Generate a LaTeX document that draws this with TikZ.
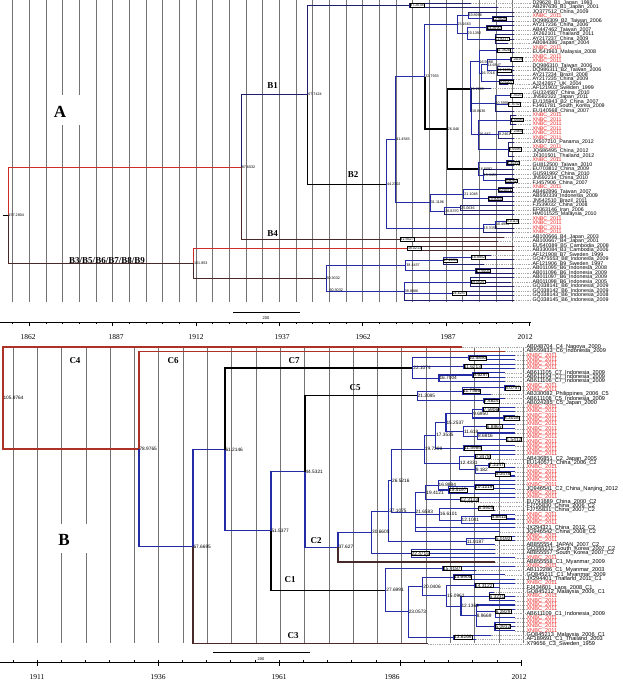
\documentclass[tikz,border=0pt]{standalone}
\usepackage{fontspec}
\setmainfont{Liberation Serif}
\newfontfamily\arial{Liberation Sans}
\usetikzlibrary{calc}
\definecolor{navy}{RGB}{30,30,110}
\definecolor{treeblue}{RGB}{36,44,165}
\definecolor{treered}{RGB}{205,45,40}
\definecolor{darkred}{RGB}{172,50,40}
\definecolor{treebrown}{RGB}{72,40,40}
\definecolor{leafred}{RGB}{235,35,35}
\definecolor{gridgray}{RGB}{115,115,115}
\tikzset{
  gridline/.style={draw=gridgray, line width=0.8pt},
  br/.style={line width=0.9pt},
  brB/.style={line width=1.1pt},
  thickbr/.style={line width=1.5pt},
  tipdash/.style={draw=gray!70, line width=0.35pt, dash pattern=on 1pt off 0.8pt},
  ageA/.style={anchor=west, inner sep=0.3pt, font=\arial\fontsize{3.7}{3.7}\selectfont},
  ageAbox/.style={ageA, draw, fill=white, line width=0.35pt},
  ageB/.style={anchor=west, inner sep=0.3pt, font=\arial\fontsize{4.8}{4.8}\selectfont},
  ageBbox/.style={ageB, draw, fill=white, line width=0.4pt},
  leafA/.style={anchor=west, inner sep=0.3pt, font=\arial\fontsize{5.3}{5.3}\selectfont},
  leafB/.style={anchor=west, inner sep=0.3pt, font=\arial\fontsize{5.6}{5.6}\selectfont},
  clade/.style={font=\bfseries\fontsize{9}{9}\selectfont, inner sep=0.5pt},
  panel/.style={font=\bfseries\fontsize{17}{17}\selectfont, inner sep=0pt},
  yearlab/.style={font=\fontsize{7.5}{7.5}\selectfont, inner sep=0pt},
  scalelab/.style={font=\arial\fontsize{4}{4}\selectfont, inner sep=0pt}
}
\begin{document}
\begin{tikzpicture}[x=1pt,y=-1pt]
\useasboundingbox (0,0) rectangle (623,682);

% time grid, panel A
\foreach \k in {0,...,30}
  \draw[gridline] ({12.7+16.667*\k},0) -- ({12.7+16.667*\k},302);
\fill[white] (50,95) rectangle (85,125);
% time grid, panel B
\foreach \k in {0,...,21}
  \draw[gridline] ({13+24.3*\k},348) -- ({13+24.3*\k},643);
\fill[white] (52,524) rectangle (93,553);

% axis between the panels
\draw[line width=0.6pt] (0,322) -- (531,322);
\foreach \k in {0,...,31}
  \draw[line width=0.5pt] ({12.7+16.667*\k},322) -- ++(0,2);
\foreach \k in {1,6,11,16,21,26,31}
  \draw[line width=0.6pt] ({12.7+16.667*\k},322) -- ++(0,4);
\foreach \x/\yr in {28/1862,116/1887,196/1912,282/1937,363/1962,448/1987,525/2012}
  \node[yearlab] (top\yr) at (\x,337) {\yr};
% axis under panel B
\draw[line width=0.6pt] (0,662) -- (522,662);
\foreach \k in {0,...,21}
  \draw[line width=0.5pt] ({12.8+24.2*\k},662) -- ++(0,-2);
\foreach \k in {1,6,11,16,21}
  \draw[line width=0.6pt] ({12.8+24.2*\k},662) -- ++(0,4);
\foreach \x/\yr in {37/1911,158/1936,279/1961,392/1986,519/2012}
  \node[yearlab] (bot\yr) at (\x,677) {\yr};

% scale bars
\coordinate (sA1) at (233,312);
\coordinate (sA2) at (300,312);
\draw[line width=0.5pt] (sA1) -- (sA2);
\node[scalelab] (sAl) at (266,318) {200};
\coordinate (sB1) at (213,652);
\coordinate (sB2) at (310,652);
\draw[line width=0.5pt] (sB1) -- (sB2);
\node[scalelab] (sBl) at (261,659) {200};

% ---------------- panel A ----------------
\coordinate (AR0) at (3,215.15);
\coordinate (AR) at (8,215.15);
\coordinate (A876) at (241.3,167);
\coordinate (A1018) at (193.6,263.3);
\coordinate (A677) at (307.8,94.7);
\coordinate (Aa1) at (409.8,5.25);
\coordinate (A442) at (386.5,184.1);
\coordinate (A415) at (395.8,139.65);
\coordinate (A328) at (424.8,76.6);
\coordinate (A232) at (457,24.4);
\coordinate (Ac1) at (468,15.4);
\coordinate (Ac1b) at (492.5,18.75);
\coordinate (Ac2) at (467.2,33.4);
\coordinate (Ac2a) at (486.8,27.75);
\coordinate (Ac2b) at (495,39);
\coordinate (A260) at (447.4,128.85);
\coordinate (Ae1) at (470.1,88.8);
\coordinate (Ae4) at (479,61.8);
\coordinate (Ae4a) at (496.6,50.25);
\coordinate (Ae4x) at (481,73.3);
\coordinate (Ae5) at (487,64.9);
\coordinate (Ae5a) at (510.5,59.25);
\coordinate (Ae5b) at (497.4,70.5);
\coordinate (Ae6) at (499,81.75);
\coordinate (Ae7) at (471.5,111.55);
\coordinate (Ae8) at (495.1,103.1);
\coordinate (Ae8a) at (510,95.25);
\coordinate (Ae8b) at (508.2,104.25);
\coordinate (Ae9) at (478.9,134.6);
\coordinate (Ae10) at (510.9,120);
\coordinate (Ae11) at (498.6,134.6);
\coordinate (Ae11a) at (510.3,131.25);
\coordinate (Ae12) at (508.9,149.25);
\coordinate (Ae2) at (478.3,168.9);
\coordinate (Ae2a) at (506.8,162.75);
\coordinate (Ae3) at (483.2,175.1);
\coordinate (Ae3a) at (505.1,180.75);
\coordinate (A311) at (430.4,202.7);
\coordinate (Aw1) at (463.9,194.25);
\coordinate (Aw1a) at (498,189.75);
\coordinate (Aw1b) at (488,198.75);
\coordinate (Aw2) at (444.8,211.1);
\coordinate (Aw3) at (460.7,207.75);
\coordinate (Av1) at (483.3,228.55);
\coordinate (Av2) at (495.5,224.6);
\coordinate (Av3) at (506.4,221.25);
\coordinate (Au1) at (400,239.25);
\coordinate (At1) at (407.3,248.25);
\coordinate (Aq1) at (326,278.35);
\coordinate (Aq2) at (405.9,265.7);
\coordinate (Ar1) at (443.3,260.6);
\coordinate (Ar1a) at (471.4,257.25);
\coordinate (Ar2) at (475.8,270.75);
\coordinate (Aq3) at (404.4,291);
\coordinate (As1) at (470.7,282);
\coordinate (As2) at (452.2,293.25);

\draw[br] (AR0) -- (AR);
\draw[br,treered] (AR) |- (A876);
\draw[br,treebrown] (AR) |- (A1018);
\draw[br,navy] (A876) |- (A677);
\draw[br,treebrown] (A876) |- (Au1);
\draw[br,treered] (A1018) |- (At1);
\draw[br,treebrown] (A1018) |- (Aq1);
\draw[br,navy] (A677) |- (Aa1);
\draw[br,black] (A677) |- (A442);
\draw[thickbr] (A328) |- (A260);
\draw[thickbr] (A260) |- (Ae1);
\draw[thickbr] (A260) |- (Ae2);
\foreach \pa/\ch in {A442/A415, A442/Av1, A415/A328, A415/A311, A328/A232,
    A232/Ac1, A232/Ac2, Ac1/Ac1b, Ac2/Ac2a, Ac2/Ac2b, Ae1/Ae4, Ae1/Ae7,
    Ae4/Ae4a, Ae4/Ae4x, Ae4x/Ae5, Ae4x/Ae6, Ae5/Ae5a, Ae5/Ae5b, Ae7/Ae8,
    Ae7/Ae9, Ae8/Ae8a, Ae8/Ae8b, Ae9/Ae10, Ae9/Ae11, Ae9/Ae12, Ae11/Ae11a,
    Ae2/Ae2a, Ae2/Ae3, Ae3/Ae3a, A311/Aw1, A311/Aw2, Aw1/Aw1a, Aw1/Aw1b,
    Aw2/Aw3, Av1/Av2, Av2/Av3, Aq1/Aq2, Aq1/Aq3, Aq2/Ar1, Aq2/Ar2,
    Ar1/Ar1a, Aq3/As1, Aq3/As2}
  \draw[br,treeblue] (\pa) |- (\ch);

% leaves of panel A
\foreach \i/\pa/\ec/\tc/\yr/\lab in {
  1/Aa1/navy/black/1993/D29628\_B1\_Japan\_1993,
  2/Aa1/navy/black/2001/AB297636\_B1\_Japan\_2001,
  3/Ac1/navy/black/2009/JQ377512\_China\_2009,
  4/Ac1b/navy/leafred/2011/XNBC\_2011,
  5/Ac1b/navy/black/2006/DQ986309\_B2\_Taiwan\_2006,
  6/Ac2a/navy/black/2006/AY217236\_China\_2006,
  7/Ac2a/navy/black/2007/AB447462\_Taiwan\_2007,
  8/Ac2b/navy/black/2011/JX262101\_Thailand\_2011,
  9/Ac2b/navy/black/2009/AY217237\_China\_2009,
  10/Ac2b/navy/black/2004/AB084386\_Japan\_2004,
  11/Ae4a/navy/leafred/2011/XNBC\_2011,
  12/Ae4a/navy/black/2008/EU541963\_Malaysia\_2008,
  13/Ae5a/navy/leafred/2011/XNBC\_2011,
  14/Ae5a/navy/leafred/2011/XNBC\_2011,
  15/Ae5b/navy/black/2006/DQ986310\_Taiwan\_2006,
  16/Ae5b/navy/black/2006/DQ986311\_B2\_Taiwan\_2006,
  17/Ae5b/navy/black/2008/AY217234\_Brazil\_2008,
  18/Ae6/navy/black/2009/AY217235\_China\_2009,
  19/Ae6/navy/black/2004/AJ242657\_UK\_2004,
  20/Ae7/navy/black/1999/AF121903\_Sweden\_1999,
  21/Ae8a/navy/black/2010/GU324587\_China\_2010,
  22/Ae8a/navy/black/2011/JN582322\_Japan\_2011,
  23/Ae8b/navy/black/2007/EU135943\_B2\_China\_2007,
  24/Ae8b/navy/black/2009/FJ461781\_South\_Korea\_2009,
  25/Ae8/navy/black/2007/EU140568\_China\_2007,
  26/Ae10/navy/leafred/2011/XNBC\_2011,
  27/Ae10/navy/leafred/2011/XNBC\_2011,
  28/Ae10/navy/leafred/2011/XNBC\_2011,
  29/Ae11a/navy/leafred/2011/XNBC\_2011,
  30/Ae11a/navy/leafred/2011/XNBC\_2011,
  31/Ae11/navy/leafred/2011/XNBC\_2011,
  32/Ae12/navy/black/2012/JX507210\_Panama\_2012,
  33/Ae12/navy/leafred/2011/XNBC\_2011,
  34/Ae12/navy/black/2012/JQ686495\_China\_2012,
  35/Ae12/navy/black/2012/JX301501\_Thailand\_2012,
  36/Ae2a/navy/leafred/2011/XNBC\_2011,
  37/Ae2a/navy/black/2010/GU812500\_Taiwan\_2010,
  38/Ae3/navy/black/2009/EU703812\_China\_2009,
  39/Ae3/navy/black/2010/GU591992\_China\_2010,
  40/Ae3a/navy/black/2010/JN592214\_China\_2010,
  41/Ae3a/navy/black/2007/FJ457906\_China\_2007,
  42/Aw1a/navy/leafred/2011/XNBC\_2011,
  43/Aw1a/navy/black/2007/AB462896\_Taiwan\_2007,
  44/Aw1b/navy/black/2009/AB550339\_Indonesia\_2009,
  45/Aw1b/navy/black/2011/JN542510\_Brazil\_2011,
  46/Aw3/navy/black/2008/FJ539032\_China\_2008,
  47/Aw3/navy/black/2006/EF063146\_Iran\_2006,
  48/Aw2/navy/black/2010/HM011525\_Malaysia\_2010,
  49/Av3/navy/leafred/2011/XNBC\_2011,
  50/Av3/navy/leafred/2011/XNBC\_2011,
  51/Av2/navy/leafred/2011/XNBC\_2011,
  52/Av1/navy/leafred/2011/XNBC\_2011,
  53/Au1/treebrown/black/2003/AB100666\_B4\_Japan\_2003,
  54/Au1/treebrown/black/2001/AB100667\_B4\_Japan\_2001,
  55/At1/treebrown/black/2008/EU540389\_B5\_Cambodia\_2008,
  56/At1/treebrown/black/2006/AB330084\_B3\_Cambodia\_2006,
  57/Ar1a/navy/black/1999/AF121908\_B7\_Sweden\_1999,
  58/Ar1a/navy/black/2009/GQ475553\_B8\_Indonesia\_2009,
  59/Ar1/navy/black/1997/AF121906\_B9\_Sweden\_1997,
  60/Ar2/navy/black/2008/AB011095\_B6\_Indonesia\_2008,
  61/Ar2/navy/black/2009/AB011096\_B6\_Indonesia\_2009,
  62/As1/navy/black/2009/AB011097\_B6\_Indonesia\_2009,
  63/As1/navy/black/2005/AB011098\_B6\_Indonesia\_2005,
  64/As1/navy/black/2009/GQ338141\_B6\_Indonesia\_2009,
  65/As2/navy/black/2009/GQ338142\_B6\_Indonesia\_2009,
  66/As2/navy/black/2008/GQ338143\_B6\_Indonesia\_2008,
  67/Aq3/navy/black/2009/GQ338145\_B6\_Indonesia\_2009}{
  \pgfmathsetmacro\ly{3+4.5*(\i-1)}
  \pgfmathsetmacro\lx{min(534.6-3.348*(2012-\yr),514)}
  \node[leafA,text=\tc] (la\i) at (532,\ly) {\lab};
  \draw[br,\ec] let \p1=(\pa) in (\pa) |- ({max(scalar(\x1)+5,\lx)},\ly) coordinate (ta\i);
  \draw[tipdash] (ta\i) -- (la\i.west);
}

% node ages, panel A
\foreach \nm/\txt in {AR/157.2804, A876/87.6032, A1018/101.853, A677/67.7424,
    A442/44.2302, A415/41.4583, A328/32.7933, A232/23.1663, Ac1/19.8996,
    Ac2/20.1392, A260/26.046, Ae1/19.2689, Ae4/16.5988, Ae4x/16.7016,
    Ae5/14.6847, Ae7/18.8436, Ae8/10.5991, Ae9/16.647, Ae11/9.2461,
    Ae2/16.8092, Ae3/15.3451, A311/31.1196, Aw1/21.1048, Aw2/26.8370,
    Aw3/25.0636, Av1/15.3153, Av2/10.4956, Aq1/60.3032, Aq2/38.4437,
    Aq3/38.8886}
  \node[ageA] (\nm-l) at (\nm) {\txt};
\foreach \nm/\txt in {Aa1/37.2638, Ac1b/12.5626, Ac2a/14.2690, Ac2b/11.8217,
    Ae4a/11.3626, Ae5a/7.2019, Ae5b/11.1135, Ae6/10.6207, Ae8a/7.3525,
    Ae8b/7.8742, Ae10/7.0695, Ae11a/7.2464, Ae12/7.6695, Ae2a/8.3039,
    Ae3a/8.8052, Aw1a/10.9371, Aw1b/13.9060, Av3/9.0113, Au1/41.5627,
    At1/38.0213, Ar1/27.2659, Ar1a/18.8852, Ar2/17.5605, As1/19.0825,
    As2/24.6257}
  \node[ageAbox] (\nm-l) at (\nm) {\txt};
\node[ageA] (Aq1-m) at (329,290) {60.3032};

% clade names, panel A
\node[panel] (pA) at (60,112) {A};
\node[clade] (cB1) at (272.5,86) {B1};
\node[clade] (cB2) at (353,175) {B2};
\node[clade] (cB4) at (272.5,234) {B4};
\node[clade] (cB3) at (107,261) {B3/B5/B6/B7/B8/B9};

% ---------------- panel B ----------------
\coordinate (BR) at (3,398);
\coordinate (B790) at (139,449);
\coordinate (B677) at (193,546.7);
\coordinate (B612) at (225,449.65);
\coordinate (B515) at (271,530.8);
\coordinate (B445) at (305,471.5);
\coordinate (B376) at (338,547.15);
\coordinate (Bc7) at (412.9,367.95);
\coordinate (Bc7a) at (468.5,357.75);
\coordinate (Bc7b) at (463.5,366.35);
\coordinate (Bc7c) at (439,378.2);
\coordinate (Bc7d) at (473,374.95);
\coordinate (Bc5) at (417.2,395.9);
\coordinate (Bc5a) at (462.8,391.1);
\coordinate (Bc5b) at (483.6,400.75);
\coordinate (Bc5c) at (504.8,387.85);
\coordinate (Bm1) at (371.6,532.3);
\coordinate (Bm2) at (388.8,511.15);
\coordinate (Bm3) at (411.1,553.4);
\coordinate (Bm4) at (391.6,480.7);
\coordinate (Bn1) at (424.4,449.2);
\coordinate (Bn2) at (415.1,512.15);
\coordinate (Bn3) at (435.8,435.3);
\coordinate (Bn4) at (459.6,463.1);
\coordinate (Bn5) at (446,422.5);
\coordinate (Bn10) at (472.8,413.65);
\coordinate (Bb1) at (483,409.35);
\coordinate (Bb2) at (503.7,417.95);
\coordinate (Bn11) at (463.5,431.4);
\coordinate (Bb3) at (486.4,426.55);
\coordinate (Bn12) at (477.7,436.2);
\coordinate (Bb5) at (506.2,439.45);
\coordinate (Bb6) at (463.6,448.05);
\coordinate (Bb7) at (474.5,456.65);
\coordinate (Bn13) at (475.3,469.55);
\coordinate (Bb8) at (488.8,465.25);
\coordinate (Bb9) at (495.2,473.85);
\coordinate (Bn14) at (425.9,492.4);
\coordinate (Bn16) at (438.1,485.1);
\coordinate (Bn17) at (448.7,489.98);
\coordinate (Bb12) at (474.7,486.75);
\coordinate (Bb11) at (460.2,499.65);
\coordinate (Bn15) at (439.4,514.2);
\coordinate (Bb14) at (478.1,508.25);
\coordinate (Bn18) at (461.2,520.1);
\coordinate (Bb15) at (491.2,516.85);
\coordinate (Bn20) at (466.4,541.6);
\coordinate (Bb17) at (495.4,538.35);
\coordinate (Bk0) at (385.9,590.2);
\coordinate (Bk1) at (442.8,568.45);
\coordinate (Bk2) at (408.3,611.9);
\coordinate (Bk3) at (422.9,586.5);
\coordinate (Bk4) at (453.8,637.25);
\coordinate (Bk5) at (453.5,577.05);
\coordinate (Bk6) at (446.7,595.9);
\coordinate (Bk7) at (474.6,585.65);
\coordinate (Bk8) at (461,606.1);
\coordinate (Bk9) at (489.1,596.4);
\coordinate (Bk10) at (476.3,615.75);
\coordinate (Bk11) at (495.3,611.6);
\coordinate (Bk12) at (495,626.5);

\draw[brB,darkred] (BR) |- (B790);
\draw[brB,treeblue] (B790) |- (B677);
\draw[brB,treeblue] (B677) |- (B612);
\draw[brB,black] (B612) |- (Bc7);
\draw[brB,treeblue] (B612) |- (B515);
\draw[brB,treeblue] (B515) |- (B445);
\draw[brB,black] (B515) |- (Bk0);
\draw[brB,black] (B445) |- (Bc5);
\draw[brB,treeblue] (B445) |- (B376);
\draw[brB,treeblue] (B376) |- (Bm1);
\foreach \pa/\ch in {Bc7/Bc7a, Bc7/Bc7b, Bc7/Bc7c, Bc7c/Bc7d, Bc5/Bc5a,
    Bc5/Bc5b, Bc5a/Bc5c, Bm1/Bm2, Bm1/Bm3, Bm2/Bm4, Bm2/Bn20, Bm4/Bn1,
    Bm4/Bn2, Bn1/Bn3, Bn1/Bn4, Bn3/Bn5, Bn3/Bb6, Bn5/Bn10, Bn5/Bn11,
    Bn10/Bb1, Bn10/Bb2, Bn11/Bb3, Bn11/Bn12, Bn12/Bb5, Bn4/Bb7, Bn4/Bn13,
    Bn13/Bb8, Bn13/Bb9, Bn2/Bn14, Bn2/Bn15, Bn14/Bn16, Bn14/Bb11,
    Bn16/Bn17, Bn17/Bb12, Bn15/Bb14, Bn15/Bn18, Bn18/Bb15, Bn20/Bb17,
    Bk0/Bk1, Bk0/Bk2, Bk2/Bk3, Bk2/Bk4, Bk3/Bk5, Bk3/Bk6, Bk6/Bk7,
    Bk6/Bk8, Bk8/Bk9, Bk8/Bk10, Bk10/Bk11, Bk10/Bk12}
  \draw[brB,treeblue] (\pa) |- (\ch);

% leaves of panel B
\foreach \i/\pa/\ec/\tc/\yr/\lab in {
  1/BR/darkred/black/2000/AB048704\_C4\_Nagoya\_2000,
  2/B790/darkred/black/2009/AB559833\_C6\_Indonesia\_2009,
  3/Bc7a/treeblue/leafred/2011/XNBC\_2011,
  4/Bc7a/treeblue/leafred/2011/XNBC\_2011,
  5/Bc7b/treeblue/leafred/2011/XNBC\_2011,
  6/Bc7b/treeblue/leafred/2011/XNBC\_2011,
  7/Bc7d/treeblue/black/2009/AB611105\_C7\_Indonesia\_2009,
  8/Bc7d/treeblue/black/2009/AB611104\_C7\_Indonesia\_2009,
  9/Bc7c/treeblue/black/2009/AB611106\_C7\_Indonesia\_2009,
  10/Bc5c/treeblue/leafred/2011/XNBC\_2011,
  11/Bc5c/treeblue/leafred/2011/XNBC\_2011,
  12/Bc5a/treeblue/black/2006/AB330082\_Philippines\_2006\_C5,
  13/Bc5b/treeblue/black/2009/AB611108\_C5\_Indonesia\_2009,
  14/Bc5b/treeblue/black/2000/AB024285\_C5\_Japan\_2000,
  15/Bb1/treeblue/leafred/2011/XNBC\_2011,
  16/Bb1/treeblue/leafred/2011/XNBC\_2011,
  17/Bb2/treeblue/leafred/2011/XNBC\_2011,
  18/Bb2/treeblue/leafred/2011/XNBC\_2011,
  19/Bb3/treeblue/leafred/2011/XNBC\_2011,
  20/Bb3/treeblue/leafred/2011/XNBC\_2011,
  21/Bn12/treeblue/leafred/2011/XNBC\_2011,
  22/Bb5/treeblue/leafred/2011/XNBC\_2011,
  23/Bb5/treeblue/leafred/2011/XNBC\_2011,
  24/Bb6/treeblue/leafred/2011/XNBC\_2011,
  25/Bb6/treeblue/leafred/2011/XNBC\_2011,
  26/Bb7/treeblue/leafred/2011/XNBC\_2011,
  27/Bb7/treeblue/black/2005/AB436851\_C2\_Japan\_2005,
  28/Bb8/treeblue/black/2006/EU140571\_China\_2006\_C2,
  29/Bb8/treeblue/leafred/2011/XNBC\_2011,
  30/Bb9/treeblue/leafred/2011/XNBC\_2011,
  31/Bb9/treeblue/leafred/2011/XNBC\_2011,
  32/Bn16/treeblue/leafred/2011/XNBC\_2011,
  33/Bb12/treeblue/leafred/2011/XNBC\_2011,
  34/Bb12/treeblue/black/2012/JQ946541\_C2\_China\_Nanjing\_2012,
  35/Bn17/treeblue/leafred/2011/XNBC\_2011,
  36/Bb11/treeblue/leafred/2011/XNBC\_2011,
  37/Bb11/treeblue/black/2000/EU791689\_China\_2000\_C2,
  38/Bb14/treeblue/black/2006/FJ755830\_China\_2006\_C2,
  39/Bb14/treeblue/black/2007/FJ755831\_China\_2007\_C2,
  40/Bb15/treeblue/leafred/2011/XNBC\_2011,
  41/Bb15/treeblue/leafred/2011/XNBC\_2011,
  42/Bn18/treeblue/leafred/2011/XNBC\_2011,
  43/Bn2/treeblue/black/2012/JX294321\_China\_2012\_C2,
  44/Bn2/treeblue/black/2008/JQ946542\_China\_2008\_C2,
  45/Bb17/treeblue/leafred/2011/XNBC\_2011,
  46/Bb17/treeblue/leafred/2011/XNBC\_2011,
  47/Bn20/treeblue/black/2007/AB855554\_JAPAN\_2007\_C2,
  48/Bm3/treeblue/black/2007/GQ355211\_South\_Korea\_2007\_C2,
  49/Bm3/treeblue/black/2007/AB855557\_South\_Korea\_2007\_C2,
  50/Bm3/treeblue/leafred/2011/XNBC\_2011,
  51/B376/treebrown/black/2007/AB855558\_C1\_Myanmar\_2009,
  52/Bk1/treeblue/leafred/2011/XNBC\_2011,
  53/Bk1/treeblue/black/2003/AB112286\_C1\_Myanmar\_2003,
  54/Bk5/treeblue/black/2009/GQ845211\_C1\_Myanmar\_2009,
  55/Bk5/treeblue/black/2011/JX294401\_Thailand\_2011\_C1,
  56/Bk7/treeblue/leafred/2011/XNBC\_2011,
  57/Bk7/treeblue/black/2008/FJ434601\_Laos\_2008\_C1,
  58/Bk9/treeblue/black/2006/GQ845212\_Malaysia\_2006\_C1,
  59/Bk9/treeblue/leafred/2011/XNBC\_2011,
  60/Bk9/treeblue/leafred/2011/XNBC\_2011,
  61/Bk10/treeblue/leafred/2011/XNBC\_2011,
  62/Bk11/treeblue/leafred/2011/XNBC\_2011,
  63/Bk11/treeblue/black/2009/AB611109\_C1\_Indonesia\_2009,
  64/Bk11/treeblue/leafred/2011/XNBC\_2011,
  65/Bk12/treeblue/leafred/2011/XNBC\_2011,
  66/Bk12/treeblue/leafred/2011/XNBC\_2011,
  67/Bk12/treeblue/leafred/2011/XNBC\_2011,
  68/Bk4/treeblue/black/2006/GQ845213\_Malaysia\_2006\_C1,
  69/Bk4/treeblue/black/2003/AF189691\_C1\_Thailand\_2003,
  70/B677/treebrown/black/1993/X79656\_C3\_Sweden\_1959}{
  \pgfmathsetmacro\ly{347+4.3*(\i-1)}
  \pgfmathsetmacro\lx{min(519.6-4.827*(2012-\yr),515)}
  \node[leafB,text=\tc] (lb\i) at (526,\ly) {\lab};
  \draw[brB,\ec] let \p1=(\pa) in (\pa) |- ({max(scalar(\x1)+5,\lx)},\ly) coordinate (tb\i);
  \draw[tipdash] (tb\i) -- (lb\i.west);
}

% node ages, panel B
\foreach \nm/\txt in {BR/105.9764, B790/78.9765, B677/67.6695, B612/61.2146,
    B515/51.5377, B445/44.5321, B376/37.627, Bc7/22.1074, Bc7c/16.7004,
    Bc5/21.2085, Bm1/30.6605, Bm2/27.1075, Bm4/26.5216, Bn1/19.7209,
    Bn2/21.6583, Bn3/17.3535, Bn4/12.4331, Bn5/15.2537, Bn10/9.6950,
    Bn11/11.618, Bn12/8.6816, Bn13/9.182, Bn14/19.4121, Bn16/16.8884,
    Bn15/16.6101, Bn18/12.1041, Bn20/11.0187, Bk0/27.6991, Bk2/23.0573,
    Bk3/20.0406, Bk6/15.0962, Bk8/12.1364, Bk10/8.9669}
  \node[ageB] (\nm-l) at (\nm) {\txt};
\foreach \nm/\txt in {Bc7a/10.5850, Bc7b/11.6213, Bc7d/9.6297, Bc5a/11.7586,
    Bc5b/7.4624, Bc5c/3.0757, Bb1/7.5906, Bb2/3.3028, Bb3/6.8865,
    Bb5/1.5412, Bb6/11.5984, Bb7/9.3478, Bb8/7.2147, Bb9/5.0478,
    Bn17/15.5197, Bb12/10.1219, Bb11/12.3133, Bb14/8.5905, Bb15/5.8812,
    Bb17/5.0192, Bm3/22.4716, Bk1/15.9187, Bk4/13.6269, Bk5/13.6905,
    Bk7/14.3122, Bk9/6.3231, Bk11/6.2829, Bk12/5.0932}
  \node[ageBbox] (\nm-l) at (\nm) {\txt};

% clade names, panel B
\node[panel] (pB) at (64,540) {B};
\node[clade] (cC4) at (75,361) {C4};
\node[clade] (cC6) at (173,361) {C6};
\node[clade] (cC7) at (294,361) {C7};
\node[clade] (cC5) at (355,388) {C5};
\node[clade] (cC2) at (316,541) {C2};
\node[clade] (cC1) at (290,580) {C1};
\node[clade] (cC3) at (293,636) {C3};
\end{tikzpicture}
\end{document}
